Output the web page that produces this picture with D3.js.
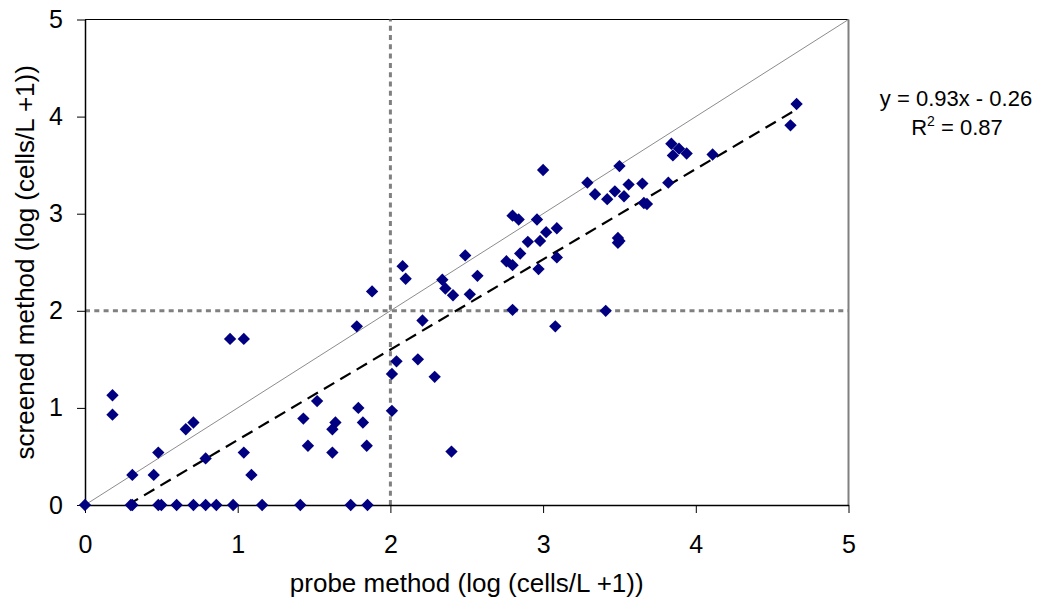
<!DOCTYPE html>
<html>
<head>
<meta charset="utf-8">
<script src="https://cdn.jsdelivr.net/npm/d3@7"></script>
<style>
  body { margin: 0; background: #ffffff; }
  text { font-family: Arial, "Liberation Sans", sans-serif; fill: #000; }
</style>
</head>
<body>
<div id="chart"></div>
<script>
// probe method (x) and screened method (y), log(cells/L + 1)
const probe = [
  0, 0.30, 0.31, 0.48, 0.50, 0.60, 0.71, 0.79, 0.86, 0.97, 1.16, 1.41, 1.74, 1.85,
  0.18, 0.18, 0.31, 0.45, 0.48, 0.66, 0.71, 0.79, 0.95, 1.04, 1.04, 1.09,
  1.43, 1.46, 1.52, 1.62, 1.64, 1.62, 1.78, 1.79, 1.82, 1.845, 1.88,
  2.01, 2.01, 2.04, 2.08, 2.10, 2.18, 2.21, 2.29, 2.34, 2.36, 2.40, 2.41, 2.49, 2.52, 2.57,
  2.76, 2.80, 2.80, 2.80, 2.84, 2.85, 2.90, 2.96, 2.97, 2.98, 3.00, 3.02, 3.08, 3.09, 3.09,
  3.29, 3.34, 3.41, 3.42, 3.47, 3.49, 3.49, 3.50, 3.50, 3.53, 3.56, 3.65, 3.66, 3.68,
  3.82, 3.84, 3.85, 3.89, 3.94, 4.11, 4.62, 4.66
];
const screened = [
  0, 0, 0, 0, 0, 0, 0, 0, 0, 0, 0, 0, 0, 0,
  1.13, 0.93, 0.31, 0.31, 0.54, 0.78, 0.85, 0.48, 1.71, 1.71, 0.54, 0.31,
  0.89, 0.61, 1.07, 0.78, 0.85, 0.54, 1.84, 1.00, 0.85, 0.61, 2.20,
  1.35, 0.97, 1.48, 2.46, 2.33, 1.50, 1.90, 1.32, 2.32, 2.23, 0.55, 2.16, 2.57, 2.17, 2.36,
  2.51, 2.47, 2.98, 2.01, 2.94, 2.59, 2.71, 2.94, 2.43, 2.72, 3.45, 2.81, 1.84, 2.85, 2.55,
  3.32, 3.20, 2.00, 3.15, 3.23, 2.75, 2.70, 3.49, 2.72, 3.18, 3.30, 3.31, 3.11, 3.10,
  3.32, 3.72, 3.60, 3.67, 3.62, 3.61, 3.91, 4.13
];
const ticks = [0, 1, 2, 3, 4, 5];
const slope = 0.93;
const intercept = -0.26;
const rSquared = 0.87;
const threshold = 2;

const width = 1039;
const height = 606;
const plotLeft = 85, plotRight = 848.5, plotTop = 19.5, plotBottom = 505;

const svg = d3.select("#chart")
  .append("svg")
  .attr("width", width)
  .attr("height", height);

const x = d3.scaleLinear().domain([0, 5]).range([plotLeft, plotRight]);
const y = d3.scaleLinear().domain([0, 5]).range([plotBottom, plotTop]);

// plot frame: top black, right gray
svg.append("line")
  .attr("x1", x(0)).attr("x2", x(5))
  .attr("y1", y(5)).attr("y2", y(5))
  .attr("stroke", "#000").attr("stroke-width", 1);
svg.append("line")
  .attr("x1", x(5)).attr("x2", x(5))
  .attr("y1", y(5)).attr("y2", y(0))
  .attr("stroke", "#808080").attr("stroke-width", 2);

// threshold lines at 2
svg.append("line")
  .attr("x1", x(threshold)).attr("x2", x(threshold))
  .attr("y1", y(0)).attr("y2", y(5))
  .attr("stroke", "#808080").attr("stroke-width", 3)
  .attr("stroke-dasharray", "5,4.3");
svg.append("line")
  .attr("x1", x(0)).attr("x2", x(5))
  .attr("y1", y(threshold)).attr("y2", y(threshold))
  .attr("stroke", "#808080").attr("stroke-width", 3)
  .attr("stroke-dasharray", "5,4.3");

// 1:1 line
svg.append("line")
  .attr("x1", x(0)).attr("x2", x(5))
  .attr("y1", y(0)).attr("y2", y(5))
  .attr("stroke", "#8c8c8c").attr("stroke-width", 1);

// trendline
const x0 = -intercept / slope;
const x1 = d3.max(probe);
svg.append("line")
  .attr("x1", x(x0)).attr("x2", x(x1))
  .attr("y1", y(slope * x0 + intercept)).attr("y2", y(slope * x1 + intercept))
  .attr("stroke", "#000").attr("stroke-width", 2.2)
  .attr("stroke-dasharray", "12,7");

// axes
const xAxis = svg.append("g")
  .attr("transform", `translate(0, ${plotBottom})`)
  .call(d3.axisBottom(x).tickValues(ticks).tickFormat(d3.format("d")).tickSize(8).tickSizeOuter(0).tickPadding(22));
const yAxis = svg.append("g")
  .attr("transform", `translate(${plotLeft}, 0)`)
  .call(d3.axisLeft(y).tickValues(ticks).tickFormat(d3.format("d")).tickSize(8).tickSizeOuter(0).tickPadding(14));

[xAxis, yAxis].forEach(g => {
  g.select(".domain").attr("stroke", "#000").attr("stroke-width", 1.5);
  g.selectAll(".tick line").attr("stroke", "#000").attr("stroke-width", 1);
  g.selectAll(".tick text")
    .style("font-family", "Arial, 'Liberation Sans', sans-serif")
    .style("font-size", "25px")
    .attr("fill", "#000");
});

// points
const points = probe.map((d, i) => ({ x: d, y: screened[i] }));
svg.append("g")
  .selectAll("path")
  .data(points)
  .enter()
  .append("path")
  .attr("d", d3.symbol(d3.symbolSquare, 76))
  .attr("transform", d => `translate(${x(d.x)}, ${y(d.y)}) rotate(45)`)
  .attr("fill", "#000080");

// axis titles
svg.append("text")
  .attr("x", (plotLeft + plotRight) / 2)
  .attr("y", 592)
  .attr("text-anchor", "middle")
  .style("font-size", "26px")
  .text("probe method (log (cells/L +1))");

svg.append("text")
  .attr("transform", `translate(34, ${(plotTop + plotBottom) / 2}) rotate(-90)`)
  .attr("text-anchor", "middle")
  .style("font-size", "26px")
  .text("screened method (log (cells/L +1))");

// trendline label
svg.append("text")
  .attr("x", 956)
  .attr("y", 106)
  .attr("text-anchor", "middle")
  .style("font-size", "22px")
  .text(`y = ${slope}x - ${Math.abs(intercept)}`);

const r2 = svg.append("text")
  .attr("x", 957)
  .attr("y", 135)
  .attr("text-anchor", "middle")
  .style("font-size", "22px");
r2.append("tspan").text("R");
r2.append("tspan").attr("dy", -9).style("font-size", "14px").text("2");
r2.append("tspan").attr("dy", 9).text(` = ${rSquared}`);
</script>
</body>
</html>
